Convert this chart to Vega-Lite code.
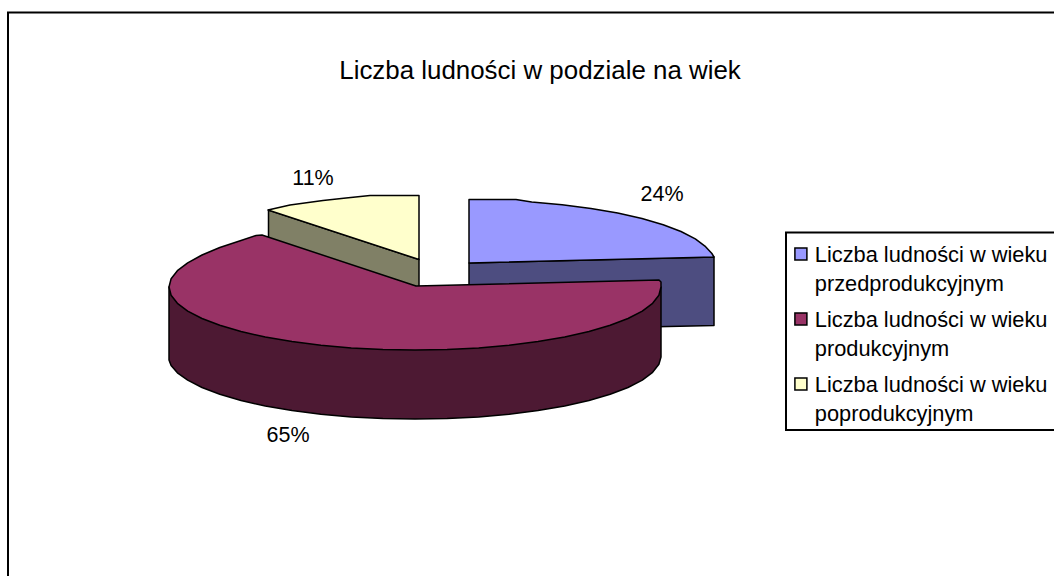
{"$schema":"https://vega.github.io/schema/vega-lite/v6.json","width":1054,"height":576,"autosize":"none","padding":0,"background":"white","config":{"view":{"stroke":null},"font":"Liberation Sans"},
"datasets":{
"shares":[{"name":"Liczba ludności w wieku przedprodukcyjnym","share":0.24,"lx":662,"ly":195},{"name":"Liczba ludności w wieku produkcyjnym","share":0.65,"lx":288,"ly":435.5},{"name":"Liczba ludności w wieku poprodukcyjnym","share":0.11,"lx":313,"ly":178.5}],
"heading":[{"text":"Liczba ludności w podziale na wiek","lx":540,"ly":71}],
"frames":[{"k":"chart","i":0,"x":8,"y":576},{"k":"chart","i":1,"x":8,"y":12.5},{"k":"chart","i":2,"x":1054,"y":12.5},{"k":"legend","i":0,"x":1054,"y":232.5},{"k":"legend","i":1,"x":786,"y":232.5},{"k":"legend","i":2,"x":786,"y":430},{"k":"legend","i":3,"x":1054,"y":430}],
"outlines":[
{"p":"bok przedprodukcyjny","i":0,"x":469,"y":263},{"p":"bok przedprodukcyjny","i":1,"x":714,"y":257},{"p":"bok przedprodukcyjny","i":2,"x":714,"y":325.5},{"p":"bok przedprodukcyjny","i":3,"x":469,"y":331},
{"p":"Liczba ludności w wieku przedprodukcyjnym","i":0,"x":469,"y":263},{"p":"Liczba ludności w wieku przedprodukcyjnym","i":1,"x":469,"y":199.5},{"p":"Liczba ludności w wieku przedprodukcyjnym","i":2,"x":516,"y":199.5},{"p":"Liczba ludności w wieku przedprodukcyjnym","i":3,"x":531.7,"y":202.1},{"p":"Liczba ludności w wieku przedprodukcyjnym","i":4,"x":562.1,"y":204.8},{"p":"Liczba ludności w wieku przedprodukcyjnym","i":5,"x":591,"y":208.4},{"p":"Liczba ludności w wieku przedprodukcyjnym","i":6,"x":617.7,"y":213},{"p":"Liczba ludności w wieku przedprodukcyjnym","i":7,"x":642,"y":218.5},{"p":"Liczba ludności w wieku przedprodukcyjnym","i":8,"x":663.2,"y":224.7},{"p":"Liczba ludności w wieku przedprodukcyjnym","i":9,"x":681,"y":231.5},{"p":"Liczba ludności w wieku przedprodukcyjnym","i":10,"x":695.3,"y":238.9},{"p":"Liczba ludności w wieku przedprodukcyjnym","i":11,"x":705.6,"y":246.7},{"p":"Liczba ludności w wieku przedprodukcyjnym","i":12,"x":711.9,"y":253.5},{"p":"Liczba ludności w wieku przedprodukcyjnym","i":13,"x":714,"y":257},
{"p":"bok poprodukcyjny","i":0,"x":268.5,"y":210},{"p":"bok poprodukcyjny","i":1,"x":419,"y":259.5},{"p":"bok poprodukcyjny","i":2,"x":419,"y":300},{"p":"bok poprodukcyjny","i":3,"x":268.5,"y":250},
{"p":"Liczba ludności w wieku poprodukcyjnym","i":0,"x":419,"y":259.5},{"p":"Liczba ludności w wieku poprodukcyjnym","i":1,"x":419,"y":195.5},{"p":"Liczba ludności w wieku poprodukcyjnym","i":2,"x":370,"y":195.5},{"p":"Liczba ludności w wieku poprodukcyjnym","i":3,"x":346,"y":198},{"p":"Liczba ludności w wieku poprodukcyjnym","i":4,"x":323,"y":200.5},{"p":"Liczba ludności w wieku poprodukcyjnym","i":5,"x":290,"y":205},{"p":"Liczba ludności w wieku poprodukcyjnym","i":6,"x":268,"y":210},
{"p":"bok produkcyjny","i":0,"x":661,"y":287},{"p":"bok produkcyjny","i":1,"x":661,"y":357},{"p":"bok produkcyjny","i":2,"x":658.9,"y":364.2},{"p":"bok produkcyjny","i":3,"x":652.6,"y":372.3},{"p":"bok produkcyjny","i":4,"x":642.3,"y":380.1},{"p":"bok produkcyjny","i":5,"x":628,"y":387.5},{"p":"bok produkcyjny","i":6,"x":610.2,"y":394.3},{"p":"bok produkcyjny","i":7,"x":589,"y":400.5},{"p":"bok produkcyjny","i":8,"x":564.7,"y":406},{"p":"bok produkcyjny","i":9,"x":538,"y":410.6},{"p":"bok produkcyjny","i":10,"x":509.1,"y":414.2},{"p":"bok produkcyjny","i":11,"x":478.7,"y":416.9},{"p":"bok produkcyjny","i":12,"x":447.1,"y":418.4},{"p":"bok produkcyjny","i":13,"x":415,"y":419},{"p":"bok produkcyjny","i":14,"x":382.9,"y":418.4},{"p":"bok produkcyjny","i":15,"x":351.3,"y":416.9},{"p":"bok produkcyjny","i":16,"x":320.9,"y":414.2},{"p":"bok produkcyjny","i":17,"x":292,"y":410.6},{"p":"bok produkcyjny","i":18,"x":265.3,"y":406},{"p":"bok produkcyjny","i":19,"x":241,"y":400.5},{"p":"bok produkcyjny","i":20,"x":219.8,"y":394.3},{"p":"bok produkcyjny","i":21,"x":202,"y":387.5},{"p":"bok produkcyjny","i":22,"x":187.7,"y":380.1},{"p":"bok produkcyjny","i":23,"x":177.4,"y":372.8},{"p":"bok produkcyjny","i":24,"x":171.1,"y":365.5},{"p":"bok produkcyjny","i":25,"x":169,"y":360},{"p":"bok produkcyjny","i":26,"x":169,"y":287},
{"p":"Liczba ludności w wieku produkcyjnym","i":0,"x":416,"y":286},{"p":"Liczba ludności w wieku produkcyjnym","i":1,"x":659,"y":280},{"p":"Liczba ludności w wieku produkcyjnym","i":2,"x":661,"y":282},{"p":"Liczba ludności w wieku produkcyjnym","i":3,"x":661,"y":287},{"p":"Liczba ludności w wieku produkcyjnym","i":4,"x":658.9,"y":295.2},{"p":"Liczba ludności w wieku produkcyjnym","i":5,"x":652.6,"y":303.3},{"p":"Liczba ludności w wieku produkcyjnym","i":6,"x":642.3,"y":311.1},{"p":"Liczba ludności w wieku produkcyjnym","i":7,"x":628,"y":318.5},{"p":"Liczba ludności w wieku produkcyjnym","i":8,"x":610.2,"y":325.3},{"p":"Liczba ludności w wieku produkcyjnym","i":9,"x":589,"y":331.5},{"p":"Liczba ludności w wieku produkcyjnym","i":10,"x":564.7,"y":337},{"p":"Liczba ludności w wieku produkcyjnym","i":11,"x":538,"y":341.6},{"p":"Liczba ludności w wieku produkcyjnym","i":12,"x":509.1,"y":345.2},{"p":"Liczba ludności w wieku produkcyjnym","i":13,"x":478.7,"y":347.9},{"p":"Liczba ludności w wieku produkcyjnym","i":14,"x":447.1,"y":349.4},{"p":"Liczba ludności w wieku produkcyjnym","i":15,"x":415,"y":350},{"p":"Liczba ludności w wieku produkcyjnym","i":16,"x":382.9,"y":349.4},{"p":"Liczba ludności w wieku produkcyjnym","i":17,"x":351.3,"y":347.9},{"p":"Liczba ludności w wieku produkcyjnym","i":18,"x":320.9,"y":345.2},{"p":"Liczba ludności w wieku produkcyjnym","i":19,"x":292,"y":341.6},{"p":"Liczba ludności w wieku produkcyjnym","i":20,"x":265.3,"y":337},{"p":"Liczba ludności w wieku produkcyjnym","i":21,"x":241,"y":331.5},{"p":"Liczba ludności w wieku produkcyjnym","i":22,"x":219.8,"y":325.3},{"p":"Liczba ludności w wieku produkcyjnym","i":23,"x":202,"y":318.5},{"p":"Liczba ludności w wieku produkcyjnym","i":24,"x":187.7,"y":311.1},{"p":"Liczba ludności w wieku produkcyjnym","i":25,"x":177.4,"y":303.3},{"p":"Liczba ludności w wieku produkcyjnym","i":26,"x":171.1,"y":295.2},{"p":"Liczba ludności w wieku produkcyjnym","i":27,"x":169,"y":287},{"p":"Liczba ludności w wieku produkcyjnym","i":28,"x":171.1,"y":278.8},{"p":"Liczba ludności w wieku produkcyjnym","i":29,"x":177.4,"y":270.7},{"p":"Liczba ludności w wieku produkcyjnym","i":30,"x":187.7,"y":262.9},{"p":"Liczba ludności w wieku produkcyjnym","i":31,"x":202,"y":255},{"p":"Liczba ludności w wieku produkcyjnym","i":32,"x":219.8,"y":247.5},{"p":"Liczba ludności w wieku produkcyjnym","i":33,"x":241,"y":240.5},{"p":"Liczba ludności w wieku produkcyjnym","i":34,"x":256,"y":235.5},{"p":"Liczba ludności w wieku produkcyjnym","i":35,"x":262,"y":235}
]
},
"data":{"name":"outlines"},
"layer":[
{"data":{"name":"frames"},"mark":{"type":"line","stroke":"black","strokeWidth":2,"interpolate":"linear"},"encoding":{"x":{"field":"x","type":"quantitative","scale":{"domain":[0,1054],"nice":false,"zero":false},"axis":null},"y":{"field":"y","type":"quantitative","scale":{"domain":[576,0],"nice":false,"zero":false},"axis":null},"detail":{"field":"k"},"order":{"field":"i"}}},
{"mark":{"type":"line","interpolate":"linear-closed","stroke":"black","strokeWidth":1.5,"strokeJoin":"round"},"encoding":{"x":{"field":"x","type":"quantitative"},"y":{"field":"y","type":"quantitative"},"order":{"field":"i"},"fill":{"field":"p","type":"nominal","scale":{"domain":["Liczba ludności w wieku przedprodukcyjnym","Liczba ludności w wieku produkcyjnym","Liczba ludności w wieku poprodukcyjnym","bok przedprodukcyjny","bok produkcyjny","bok poprodukcyjny"],"range":["#9999FF","#993366","#FFFFCC","#4D4D80","#4D1933","#808066"]},"legend":{"orient":"none","legendX":790,"legendY":243,"title":null,"padding":0,"values":["Liczba ludności w wieku przedprodukcyjnym","Liczba ludności w wieku produkcyjnym","Liczba ludności w wieku poprodukcyjnym"],"labelExpr":"['Liczba ludności w wieku', slice(datum.label,24)]","symbolType":"square","symbolSize":144,"symbolStrokeColor":"black","symbolStrokeWidth":1.5,"labelFont":"Liberation Sans","labelFontSize":21.8,"labelColor":"black","labelLimit":400,"labelBaseline":"top","labelOffset":3,"rowPadding":12,"encode":{"labels":{"update":{"lineHeight":{"value":29},"dy":{"value":-9}}}}}}}},
{"data":{"name":"shares"},"mark":{"type":"text","fontSize":21.5,"font":"Liberation Sans","color":"black"},"encoding":{"x":{"field":"lx","type":"quantitative"},"y":{"field":"ly","type":"quantitative"},"text":{"field":"share","type":"quantitative","format":".0%"}}},
{"data":{"name":"heading"},"mark":{"type":"text","fontSize":25.9,"font":"Liberation Sans","color":"black"},"encoding":{"x":{"field":"lx","type":"quantitative"},"y":{"field":"ly","type":"quantitative"},"text":{"field":"text"}}}
]}
